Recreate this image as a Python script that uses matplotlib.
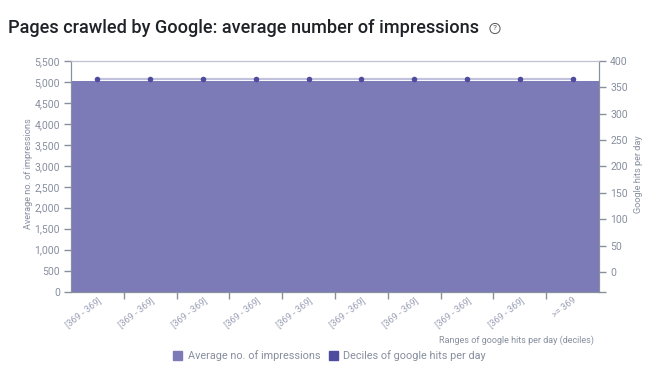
import matplotlib
matplotlib.use("Agg")
import matplotlib.pyplot as plt

W, H = 658, 378

categories = ["[369 - 369]"] * 9 + [">= 369"]
avg_impressions = [5023] * 10
decile_hits = [366] * 10
left_ticks = list(range(0, 6000, 500))
right_ticks = list(range(0, 450, 50))

AREA = "#7d7ab8"
DARK = "#4f4b9f"
LINE = "#c3c2de"
AXIS = "#87909c"
TEXT = "#868e9e"

plt.rcParams["font.family"] = ["Roboto", "DejaVu Sans"]

fig = plt.figure(figsize=(W / 100, H / 100), dpi=100)
ax = fig.add_axes([71 / W, 1 - 291.5 / H, 528 / W, 230.5 / H])
x = list(range(len(categories)))

ax.bar(x, avg_impressions, width=1.0, color=AREA, linewidth=0)
ax.set_xlim(-0.5, 9.5)
ax.set_ylim(0, 5500)
ax.set_yticks(left_ticks)
ax.set_yticklabels([f"{v:,}" for v in left_ticks], fontsize=7.5, color=TEXT)
# ticks sit between the bands, labels under the band centres
ax.set_xticks([i + 0.5 for i in x[:-1]])
ax.set_xticks(x, minor=True)
ax.set_xticklabels(categories, minor=True, fontsize=6.6, color="#9a9fb5", rotation=38,
                   ha="right", rotation_mode="anchor")
ax.set_xticklabels([])
ax.tick_params(axis="y", length=5, width=1, color=AXIS, pad=3)
ax.tick_params(axis="x", which="major", length=5, width=1, color=AXIS)
ax.tick_params(axis="x", which="minor", length=0, pad=3)
ax.set_ylabel("Average no. of impressions", fontsize=6.6, color=TEXT)
ax.yaxis.set_label_coords(-38 / 528, 0.51)

ax2 = ax.twinx()
ax2.plot(x, decile_hits, color=LINE, linewidth=1.6, zorder=3)
ax2.plot(x, decile_hits, color=DARK, linestyle="none", marker="o", markersize=4,
         markeredgewidth=0, zorder=4, label="Deciles of google hits per day")
ax2.set_ylim(-37, 400)
ax2.set_yticks(right_ticks)
ax2.set_yticklabels([str(v) for v in right_ticks], fontsize=7.5, color=TEXT)
ax2.set_yticks([-37], minor=True)
ax2.tick_params(axis="y", which="both", length=5, width=1, color=AXIS, pad=3)
ax2.set_ylabel("Google hits per day", fontsize=6.6, color=TEXT)
ax2.yaxis.set_label_coords(1 + 35 / 528, 0.51)

for a in (ax, ax2):
    a.spines["left"].set_color(AXIS)
    a.spines["right"].set_color(AXIS)
    a.spines["bottom"].set_color(AXIS)
    a.spines["top"].set_color("#bcc3cf")

fig.text(8 / W, 1 - 28 / H, "Pages crawled by Google: average number of impressions",
         fontsize=13.1, fontweight=500, color="#1f2328", va="center", ha="left")
# the help icon next to the title
fig.text(495 / W, 1 - 28.5 / H, "?", fontsize=6, color="#555555", va="center", ha="center",
         bbox=dict(boxstyle="circle,pad=0.25", facecolor="white", edgecolor="#555555", linewidth=0.7))

fig.text(594 / W, 1 - 340 / H, "Ranges of google hits per day (deciles)", fontsize=6.5,
         color=TEXT, ha="right", va="center")

handles = [plt.Rectangle((0, 0), 1, 1, color=AREA), plt.Rectangle((0, 0), 1, 1, color=DARK)]
fig.legend(handles, ["Average no. of impressions", "Deciles of google hits per day"],
           loc="center", bbox_to_anchor=(329.5 / W, 1 - 356 / H), ncol=2, frameon=False,
           fontsize=7.8, labelcolor=TEXT, handlelength=0.85, handleheight=0.85,
           handletextpad=0.5, columnspacing=0.8, borderpad=0)

fig.savefig("out.png", dpi=100)
